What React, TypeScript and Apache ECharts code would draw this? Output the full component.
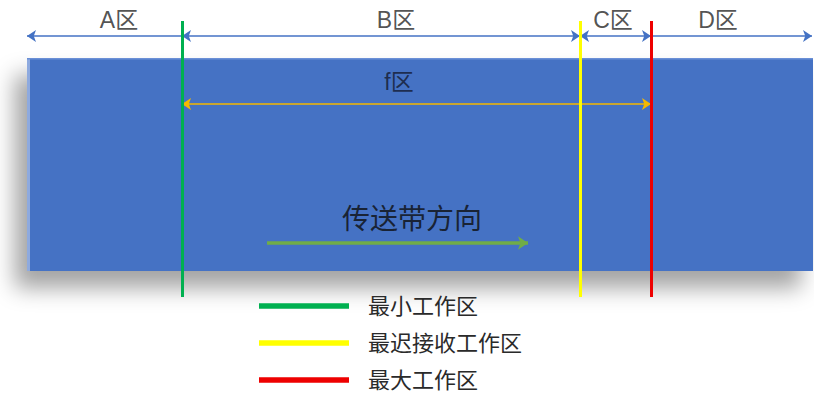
import React, { useEffect, useRef } from "react";
import * as echarts from "echarts";

// ---- data ----
const ZONE_NAMES = ["A区", "B区", "C区", "D区"];
const ZONE_BOUNDS = [27, 182, 580, 651, 812];
const ZONE_LABEL_X = [119, 396, 613, 718];
const BOUNDARY_NAMES = ["最小工作区", "最迟接收工作区", "最大工作区"];
const BOUNDARY_X = [182, 580, 651];
const F_ZONE_NAME = "f区";
const F_ZONE_RANGE = [182, 651];
const F_ZONE_LABEL_X = 399;
const DIRECTION_NAME = "传送带方向";
const DIRECTION_RANGE = [267, 528];
const DIRECTION_LABEL_X = 412;
const BELT = [27, 58, 813, 271];

// ---- layout / style constants ----
const W = 814;
const H = 396;
const DIM_Y = 36;
const ZONE_LABEL_Y = 20;
const F_ARROW_Y = 104;
const F_LABEL_Y = 82;
const DIR_ARROW_Y = 243;
const DIR_LABEL_Y = 219;
const VLINE_TOP = 21;
const VLINE_BOTTOM = 297;
const BOUNDARY_COLORS = ["#00b050", "#ffff00", "#ee0000"];
const FONT = '"Liberation Sans", "Noto Sans CJK SC", sans-serif';

export default function App() {
  const ref = useRef<HTMLDivElement>(null);

  useEffect(() => {
    if (!ref.current) return;
    const chart = echarts.init(ref.current, undefined, { renderer: "svg" });

    const zoneArrows = ZONE_NAMES.map((n, i) => ({
      name: n,
      coords: [
        [ZONE_BOUNDS[i], DIM_Y],
        [ZONE_BOUNDS[i + 1], DIM_Y],
      ],
      symbol:
        i === 0
          ? ["arrow", "none"]
          : i === ZONE_NAMES.length - 1
          ? ["none", "arrow"]
          : ["arrow", "arrow"],
    }));

    const boundarySeries = BOUNDARY_NAMES.map((n, i) => ({
      type: "lines",
      name: n,
      coordinateSystem: "cartesian2d",
      z: 4,
      silent: true,
      symbol: "none",
      lineStyle: { color: BOUNDARY_COLORS[i], width: 3, opacity: 1 },
      data: [
        {
          coords: [
            [BOUNDARY_X[i], VLINE_TOP],
            [BOUNDARY_X[i], VLINE_BOTTOM],
          ],
        },
      ],
    }));

    const option: any = {
      animation: false,
      grid: { left: 0, right: 0, top: 0, bottom: 0 },
      xAxis: { type: "value", min: 0, max: W, show: false },
      yAxis: { type: "value", min: 0, max: H, inverse: true, show: false },
      legend: {
        data: BOUNDARY_NAMES.map((n, i) => ({
          name: n,
          icon: "rect",
          itemStyle: { color: BOUNDARY_COLORS[i] },
        })),
        orient: "vertical",
        left: 259,
        top: 294,
        padding: 0,
        itemWidth: 88,
        itemHeight: 3.5,
        itemGap: 13,
        selectedMode: false,
        textStyle: {
          fontSize: 22,
          color: "#2a2a2a",
          fontFamily: FONT,
          lineHeight: 24,
          padding: [0, 0, 0, 15],
        },
      },
      series: [
        {
          type: "custom",
          name: "belt",
          z: 1,
          silent: true,
          encode: { x: [0, 2], y: [1, 3] },
          data: [BELT],
          renderItem: (params: any, api: any) => {
            const p1 = api.coord([api.value(0), api.value(1)]);
            const p2 = api.coord([api.value(2), api.value(3)]);
            return {
              type: "group",
              children: [
                {
                  type: "rect",
                  shape: { x: p1[0], y: p1[1], width: p2[0] - p1[0], height: p2[1] - p1[1] },
                  style: {
                    fill: "#4472c4",
                    shadowBlur: 22,
                    shadowColor: "rgba(0,0,0,0.36)",
                    shadowOffsetX: -12,
                    shadowOffsetY: 17,
                  },
                },
                {
                  type: "rect",
                  shape: { x: p1[0], y: p1[1], width: 3, height: p2[1] - p1[1] },
                  style: { fill: "#8eaadf" },
                },
                {
                  type: "rect",
                  shape: { x: p1[0], y: p1[1], width: p2[0] - p1[0], height: 1.5 },
                  style: { fill: "#6a8fd6" },
                },
              ],
            };
          },
        },
        {
          type: "lines",
          name: "zones",
          coordinateSystem: "cartesian2d",
          z: 3,
          silent: true,
          symbolSize: 9,
          lineStyle: { color: "#4472c4", width: 1.5, opacity: 1 },
          data: zoneArrows,
        },
        {
          type: "lines",
          name: "f",
          coordinateSystem: "cartesian2d",
          z: 3,
          silent: true,
          symbol: ["arrow", "arrow"],
          symbolSize: 9,
          lineStyle: { color: "#f5b800", width: 1.5, opacity: 1 },
          data: [
            {
              coords: [
                [F_ZONE_RANGE[0], F_ARROW_Y],
                [F_ZONE_RANGE[1], F_ARROW_Y],
              ],
            },
          ],
        },
        {
          type: "lines",
          name: "direction",
          coordinateSystem: "cartesian2d",
          z: 3,
          silent: true,
          symbol: ["none", "arrow"],
          symbolSize: 10,
          lineStyle: { color: "#70ad47", width: 3.5, opacity: 1 },
          data: [
            {
              coords: [
                [DIRECTION_RANGE[0], DIR_ARROW_Y],
                [DIRECTION_RANGE[1], DIR_ARROW_Y],
              ],
            },
          ],
        },
        ...boundarySeries,
        {
          type: "scatter",
          name: "labels",
          z: 5,
          silent: true,
          symbolSize: 1,
          itemStyle: { color: "rgba(0,0,0,0)" },
          label: {
            show: true,
            position: "inside",
            formatter: "{b}",
            fontFamily: FONT,
            fontSize: 23,
            color: "#262626",
          },
          data: [
            ...ZONE_NAMES.map((n, i) => ({ name: n, value: [ZONE_LABEL_X[i], ZONE_LABEL_Y] })),
            {
              name: F_ZONE_NAME,
              value: [F_ZONE_LABEL_X, F_LABEL_Y],
              label: { color: "#141a30" },
            },
            {
              name: DIRECTION_NAME,
              value: [DIRECTION_LABEL_X, DIR_LABEL_Y],
              label: { color: "#0d0d0d", fontSize: 28 },
            },
          ],
        },
      ],
    };

    chart.setOption(option);
    return () => chart.dispose();
  }, []);

  return (
    <div
      ref={ref}
      style={{ position: "fixed", left: 0, top: 0, width: W, height: H, background: "#fff" }}
    />
  );
}
